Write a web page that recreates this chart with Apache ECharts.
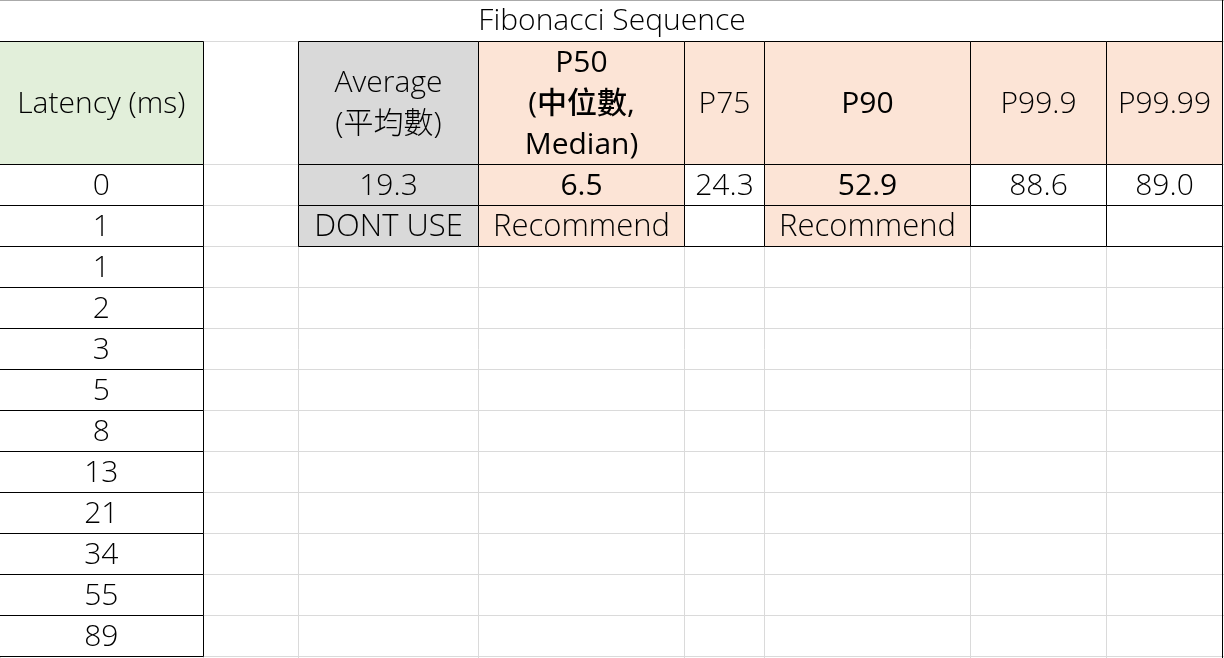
<!DOCTYPE html>
<html lang="en">
<head>
<meta charset="utf-8">
<title>Fibonacci Sequence</title>
<script src="https://cdn.jsdelivr.net/npm/echarts@6/dist/echarts.min.js"></script>
<style>html,body{margin:0;padding:0;background:#fff;}#main{width:1224px;height:658px;}</style>
</head>
<body>
<div id="main"></div>
<script>
// data
var title = 'Fibonacci Sequence';
var latencyHeader = 'Latency (ms)';
var latencies = [0, 1, 1, 2, 3, 5, 8, 13, 21, 34, 55, 89];
var statHeaders = ['Average\n(平均數)', 'P50\n(中位數,\nMedian)', 'P75', 'P90', 'P99.9', 'P99.99'];
var statValues = ['19.3', '6.5', '24.3', '52.9', '88.6', '89.0'];
var statNotes = ['DONT USE', 'Recommend', '', 'Recommend', '', ''];

// layout
var colX = [0, 203, 298, 478, 684, 764, 970, 1106, 1222];
var rowY = [0, 41, 164];
for (var i = 0; i < latencies.length; i++) rowY.push(164 + Math.round((i + 1) * 41));
var headFill = ['#d9d9d9', '#fce4d6', '#fce4d6', '#fce4d6', '#fce4d6', '#fce4d6'];
var valFill = ['#d9d9d9', '#fce4d6', '#ffffff', '#fce4d6', '#ffffff', '#ffffff'];
var bold = [false, true, false, true, false, false];
var FONT = '"Open Sans", "Noto Sans CJK TC", sans-serif';

var g = [];
function cell(x0, x1, y0, y1, fill, stroke, txt, w, size) {
  g.push({type: 'rect', shape: {x: x0, y: y0, width: x1 - x0, height: y1 - y0},
    style: {fill: fill, stroke: stroke, lineWidth: 1}, z: 3});
  if (txt !== '') g.push({type: 'text', x: (x0 + x1) / 2, y: (y0 + y1) / 2 + 1, z: 4,
    style: {text: txt, fontFamily: FONT, fontSize: size || 30, fontWeight: w ? 500 : 300,
      fill: '#000', align: 'center', verticalAlign: 'middle', lineHeight: 41}});
}
// background gridlines
for (var c = 0; c < colX.length; c++) g.push({type: 'line', shape: {x1: colX[c] + 0.5, y1: 41, x2: colX[c] + 0.5, y2: 658}, style: {stroke: '#dadada'}});
for (var r = 1; r < rowY.length; r++) g.push({type: 'line', shape: {x1: 0, y1: rowY[r] + 0.5, x2: 1224, y2: rowY[r] + 0.5}, style: {stroke: '#dadada'}});
g.push({type: 'line', shape: {x1: 0, y1: 0.5, x2: 1224, y2: 0.5}, style: {stroke: '#aaa'}});
g.push({type: 'line', shape: {x1: 1222.5, y1: 0, x2: 1222.5, y2: 658}, style: {stroke: '#000'}});
// title
g.push({type: 'text', x: 612, y: 21, z: 4, style: {text: title, fontFamily: FONT, fontSize: 30, fontWeight: 300, fill: '#000', align: 'center', verticalAlign: 'middle'}});
// latency column
cell(-1, colX[1] + 0.5, 41.5, 164.5, '#e2efda', '#000', latencyHeader);
latencies.forEach(function (v, i) { cell(-1, colX[1] + 0.5, rowY[i + 2] + 0.5, rowY[i + 3] + 0.5, '#fff', '#000', String(v)); });
// stats table
statHeaders.forEach(function (h, i) {
  var x0 = colX[i + 2] + 0.5, x1 = colX[i + 3] + 0.5;
  cell(x0, x1, 41.5, 164.5, headFill[i], '#000', h, bold[i]);
  cell(x0, x1, 164.5, 205.5, valFill[i], '#000', statValues[i], bold[i]);
  cell(x0, x1, 205.5, 246.5, valFill[i], '#000', statNotes[i], false, 31);
});

var chart = echarts.init(document.getElementById('main'));
chart.setOption({animation: false, graphic: {elements: g}});
</script>
</body>
</html>
